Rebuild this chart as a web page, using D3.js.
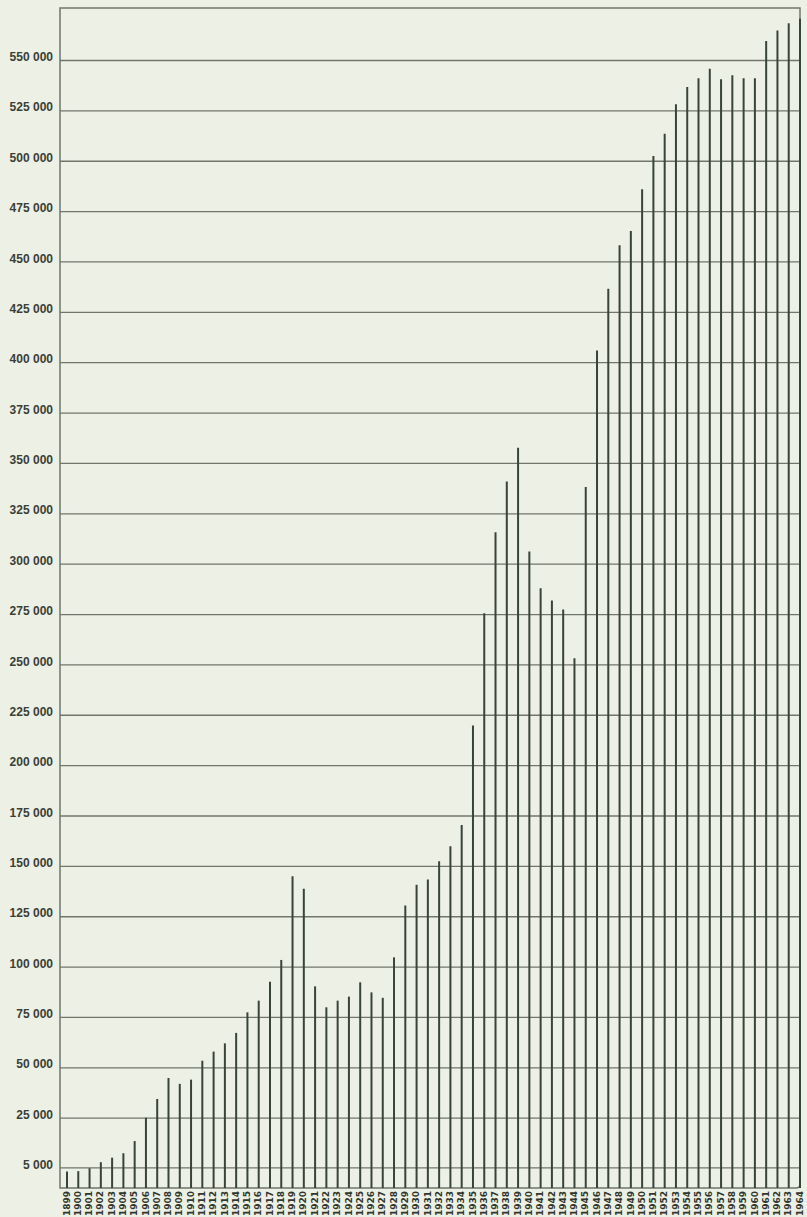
<!DOCTYPE html>
<html>
<head>
<meta charset="utf-8">
<script src="https://cdn.jsdelivr.net/npm/d3@7"></script>
<style>
  html, body { margin: 0; padding: 0; background: #edf0e5; }
  svg { display: block; }
</style>
</head>
<body>
<svg id="chart" width="807" height="1217"></svg>
<script>
// ---- data ----
const years = d3.range(1899, 1965).map(String);
const values = [
  4000, 4100, 4800, 7100, 8900, 10700, 15600, 25000, 34300, 44700,
  41800, 43900, 53300, 57800, 61900, 67100, 77300, 83100, 92500, 103300,
  144800, 138600, 90200, 79800, 83100, 85100, 92200, 87200, 84500, 104600,
  130300, 140600, 143200, 152300, 159700, 170300, 219700, 275400, 315600, 340800,
  357500, 306000, 287800, 281700, 277200, 253100, 338000, 405800, 436500, 458000,
  465100, 485800, 502300, 513400, 528000, 536600, 541000, 545700, 540400, 542400,
  541000, 541000, 559400, 564700, 568300, 570500
];
const tickValues = [5000, 25000, 50000, 75000, 100000, 125000, 150000, 175000, 200000,
  225000, 250000, 275000, 300000, 325000, 350000, 375000, 400000, 425000, 450000,
  475000, 500000, 525000, 550000];
// the original axis is stretched below 25 000 (the "5 000" line sits one full step lower)
const scaleBreaks = [0, 5000, 25000, 550000];

// ---- layout ----
const mLeft = 60, mRight = 800, mTop = 8, mBase = 1188;
const svg = d3.select("#chart");
const locale = d3.formatLocale({ decimal: ",", thousands: " ", grouping: [3], currency: ["", ""] });
const fmt = locale.format(",d");

const x = d3.scalePoint().domain(years).range([67, 800]);
const y = d3.scaleLinear().domain(scaleBreaks).range([mBase, 1167.4, 1117.7, 60]);

const ink = "#38433a", grid = "#70766c";

// gridlines + y labels
const yAxis = svg.append("g")
  .attr("transform", `translate(${mLeft},0)`)
  .call(d3.axisLeft(y).tickValues(tickValues).tickFormat(fmt)
        .tickSizeInner(-(mRight - mLeft)).tickSizeOuter(0).tickPadding(7));
yAxis.select(".domain").remove();
yAxis.selectAll(".tick line").attr("stroke", grid).attr("stroke-width", 1.3);
yAxis.selectAll(".tick text")
  .attr("fill", "#3a3f38")
  .attr("dy", "0.05em")
  .style("font-family", "'Liberation Sans', Arial, sans-serif")
  .style("font-weight", "bold")
  .style("font-size", "12px");

// frame
svg.append("path")
  .attr("d", `M${mLeft},${mTop}H${mRight}V${mBase - 4}Q${mRight},${mBase} ${mRight - 4},${mBase}H${mLeft}Z`)
  .attr("fill", "none").attr("stroke", grid).attr("stroke-width", 1.5);

// bars (thin vertical lines)
svg.append("g").selectAll("line")
  .data(years.map((yr, i) => ({ yr, v: values[i] })))
  .join("line")
  .attr("x1", d => x(d.yr)).attr("x2", d => x(d.yr))
  .attr("y1", y(0)).attr("y2", d => y(d.v))
  .attr("stroke", ink).attr("stroke-width", 2);

// year labels
const xAxis = svg.append("g")
  .attr("transform", `translate(0,${mBase})`)
  .call(d3.axisBottom(x).tickSize(0));
xAxis.select(".domain").remove();
xAxis.selectAll(".tick text")
  .attr("transform", "rotate(-90)")
  .attr("x", -3).attr("y", -1).attr("dy", "0.35em")
  .attr("text-anchor", "end")
  .attr("fill", "#2f372f")
  .style("font-family", "'DejaVu Sans', sans-serif")
  .style("font-weight", "bold")
  .style("font-size", "9px");
</script>
</body>
</html>
